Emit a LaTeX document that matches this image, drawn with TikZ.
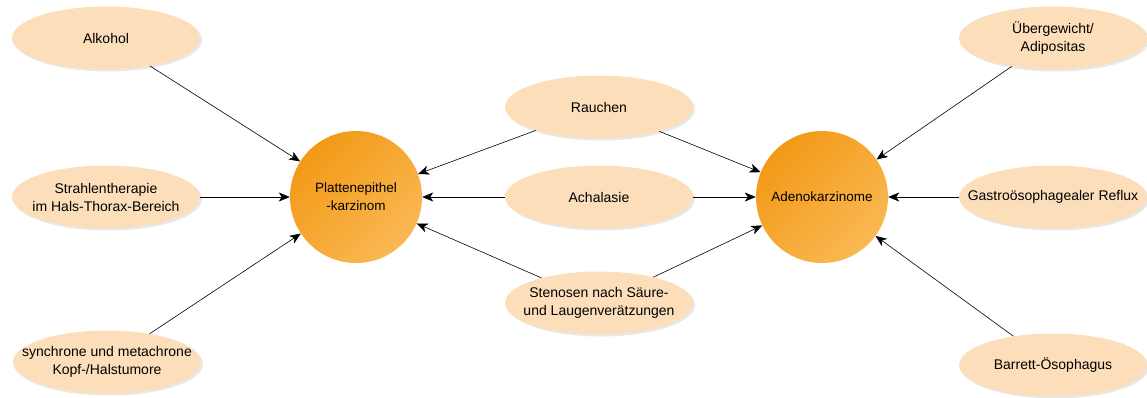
\documentclass[tikz,border=0pt]{standalone}
\usepackage{fontspec}
\setmainfont{Liberation Sans}
\usetikzlibrary{shapes.geometric,arrows.meta,shadows}
\definecolor{peach}{HTML}{FCDFBA}
\definecolor{orangeA}{HTML}{F29A17}
\definecolor{orangeB}{HTML}{FAB853}
\tikzset{
  factor/.style={ellipse, fill=peach, minimum width=188pt, minimum height=63pt,
    inner xsep=-30pt, inner ysep=0pt,
    align=center, font=\fontsize{14}{18}\selectfont,
    drop shadow={opacity=0.18, shadow xshift=2pt, shadow yshift=-2pt}},
  tumor/.style={circle, minimum size=132pt, inner sep=0pt, align=center,
    top color=orangeA, bottom color=orangeB, shading angle=45,
    font=\fontsize{13.5}{18}\selectfont},
  link/.style={draw=black, line width=0.6pt, -{Stealth[length=11pt,width=9pt,inset=3pt]}}
}
\begin{document}
\begin{tikzpicture}[x=1pt,y=-1pt]
\useasboundingbox (0,0) rectangle (1147,397);
\node[tumor] (pe) at (356,197) {Plattenepithel\\-karzinom};
\node[tumor] (ad) at (822,197) {Adenokarzinome};
\node[factor] (alk) at (106,38) {Alkohol};
\node[factor] (str) at (106,197) {Strahlentherapie\\im Hals-Thorax-Bereich};
\node[factor] (syn) at (107,362) {synchrone und metachrone\\Kopf-/Halstumore};
\node[factor] (rau) at (599,107) {Rauchen};
\node[factor] (ach) at (599,197) {Achalasie};
\node[factor] (ste) at (599,303) {Stenosen nach Säure-\\und Laugenverätzungen};
\node[factor] (ueb) at (1053,38) {Übergewicht/\\Adipositas};
\node[factor] (gas) at (1053,197) {Gastroösophagealer Reflux};
\node[factor] (bar) at (1053,365) {Barrett-Ösophagus};
\draw[link] (alk) -- (pe);
\draw[link] (str) -- (pe);
\draw[link] (syn) -- (pe);
\draw[link] (rau) -- (pe);
\draw[link] (ach) -- (pe);
\draw[link] (ste) -- (pe);
\draw[link] (rau) -- (ad);
\draw[link] (ach) -- (ad);
\draw[link] (ste) -- (ad);
\draw[link] (ueb) -- (ad);
\draw[link] (gas) -- (ad);
\draw[link] (bar) -- (ad);
\end{tikzpicture}
\end{document}
